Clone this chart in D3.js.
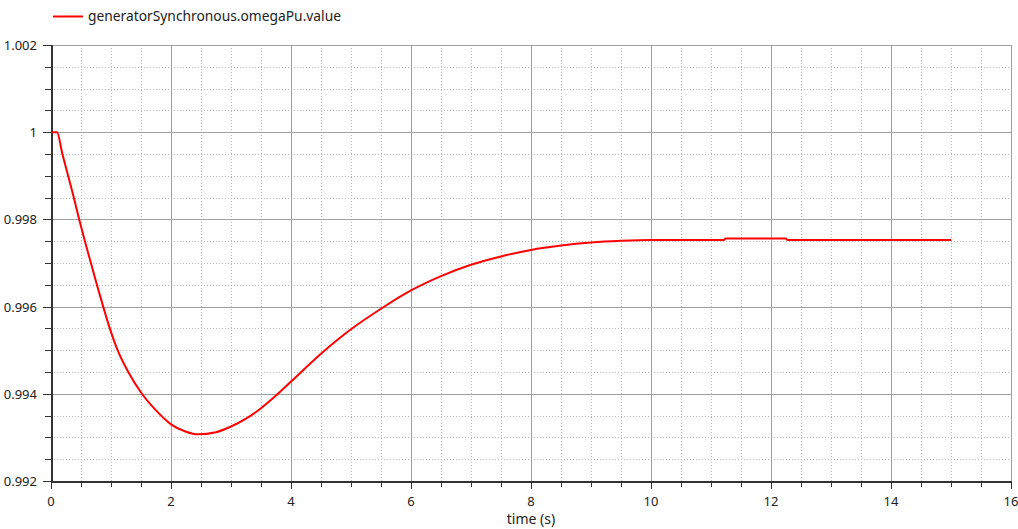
<!DOCTYPE html>
<html>
<head>
<meta charset="utf-8">
<script src="https://cdn.jsdelivr.net/npm/d3@7"></script>
<style>
  html, body { margin: 0; padding: 0; background: #fff; }
  svg { display: block; font-family: "Noto Sans", sans-serif; }
</style>
</head>
<body>
<div id="chart"></div>
<script>
// Series
const seriesName = 'generatorSynchronous.omegaPu.value';
const timeValues = [0, 0.1, 0.19, 0.285, 0.38, 0.47, 0.565, 0.665, 0.765, 0.87, 0.98, 1.11, 1.3, 1.5,
  1.75, 2.0, 2.25, 2.45, 2.75, 3.0, 3.25, 3.5, 3.75, 4.0, 4.5, 5.0, 5.5, 6.0, 6.5, 7.0, 7.5,
  8.0, 8.5, 9.0, 9.5, 10.0, 11.0, 11.22, 11.24, 12.25, 12.27, 15.0];
const omegaValues = [1.0, 1.0, 0.9995, 0.999, 0.9985, 0.998, 0.9975, 0.997, 0.9965, 0.996, 0.9955, 0.995, 0.99447, 0.99403,
  0.99362, 0.9933, 0.99313, 0.99307, 0.99312, 0.99325, 0.99343, 0.99367, 0.99396, 0.99428, 0.99492, 0.99548, 0.99595, 0.99637, 0.9967, 0.99696, 0.99715,
  0.9973, 0.9974, 0.99747, 0.99751, 0.99753, 0.99753, 0.99753, 0.99756, 0.99756, 0.99753, 0.99753];
const xTicks = [0, 2, 4, 6, 8, 10, 12, 14, 16];
const yTicks = [0.992, 0.994, 0.996, 0.998, 1, 1.002];
const xDomain = [0, 16];
const yDomain = [0.992, 1.002];
const xLabel = 'time (s)';

const width = 1018, height = 529;
const plot = { left: 51, top: 45, right: 1011, bottom: 481 };

const svg = d3.select('#chart').append('svg')
  .attr('width', width).attr('height', height);

const x = d3.scaleLinear().domain(xDomain).range([plot.left, plot.right]);
const y = d3.scaleLinear().domain(yDomain).range([plot.bottom, plot.top]);

// minor ticks: 4 per major step
const xMinor = d3.range(xDomain[0], xDomain[1] + 1e-9, 0.5).filter(v => !xTicks.includes(v));
const yMinor = d3.range(0, 21).map(i => +(yDomain[0] + i * 0.0005).toFixed(4))
  .filter(v => !yTicks.some(t => Math.abs(t - v) < 1e-7));

const grid = svg.append('g').attr('shape-rendering', 'crispEdges');

// minor dotted grid
grid.selectAll('.vmin').data(xMinor).join('line')
  .attr('x1', d => Math.round(x(d)) + 0.5).attr('x2', d => Math.round(x(d)) + 0.5)
  .attr('y1', plot.top).attr('y2', plot.bottom)
  .attr('stroke', '#b8b8b8').attr('stroke-dasharray', '1,2');
grid.selectAll('.hmin').data(yMinor).join('line')
  .attr('y1', d => Math.round(y(d)) + 0.5).attr('y2', d => Math.round(y(d)) + 0.5)
  .attr('x1', plot.left).attr('x2', plot.right)
  .attr('stroke', '#b8b8b8').attr('stroke-dasharray', '1,2');

// major solid grid
grid.selectAll('.vmaj').data(xTicks).join('line')
  .attr('x1', d => Math.round(x(d)) + 0.5).attr('x2', d => Math.round(x(d)) + 0.5)
  .attr('y1', plot.top).attr('y2', plot.bottom)
  .attr('stroke', '#a0a0a0');
grid.selectAll('.hmaj').data(yTicks).join('line')
  .attr('y1', d => Math.round(y(d)) + 0.5).attr('y2', d => Math.round(y(d)) + 0.5)
  .attr('x1', plot.left).attr('x2', plot.right)
  .attr('stroke', '#a0a0a0');

// frame
grid.append('rect')
  .attr('x', plot.left + 0.5).attr('y', plot.top + 0.5)
  .attr('width', plot.right - plot.left).attr('height', plot.bottom - plot.top)
  .attr('fill', 'none').attr('stroke', '#a0a0a0');

// axes
const axisColor = '#333';
const xAxis = svg.append('g').attr('shape-rendering', 'crispEdges');
xAxis.selectAll('.tmin').data(xMinor).join('line')
  .attr('x1', d => Math.round(x(d)) + 0.5).attr('x2', d => Math.round(x(d)) + 0.5)
  .attr('y1', plot.bottom).attr('y2', plot.bottom + 6).attr('stroke', axisColor);
xAxis.selectAll('.tmaj').data(xTicks).join('line')
  .attr('x1', d => Math.round(x(d)) + 0.5).attr('x2', d => Math.round(x(d)) + 0.5)
  .attr('y1', plot.bottom).attr('y2', plot.bottom + 8).attr('stroke', axisColor);
xAxis.append('line')
  .attr('x1', plot.left).attr('x2', plot.right + 1)
  .attr('y1', plot.bottom + 0.5).attr('y2', plot.bottom + 0.5)
  .attr('stroke', axisColor).attr('stroke-width', 2);
xAxis.selectAll('text').data(xTicks).join('text')
  .attr('x', d => x(d)).attr('y', plot.bottom + 25)
  .attr('text-anchor', 'middle').attr('font-size', 13).attr('fill', '#222')
  .text(d => d);

const yAxis = svg.append('g').attr('shape-rendering', 'crispEdges');
yAxis.selectAll('.tmin').data(yMinor).join('line')
  .attr('y1', d => Math.round(y(d)) + 0.5).attr('y2', d => Math.round(y(d)) + 0.5)
  .attr('x1', plot.left - 6).attr('x2', plot.left).attr('stroke', axisColor);
yAxis.selectAll('.tmaj').data(yTicks).join('line')
  .attr('y1', d => Math.round(y(d)) + 0.5).attr('y2', d => Math.round(y(d)) + 0.5)
  .attr('x1', plot.left - 8).attr('x2', plot.left).attr('stroke', axisColor);
yAxis.append('line')
  .attr('x1', plot.left + 0.5).attr('x2', plot.left + 0.5)
  .attr('y1', plot.top).attr('y2', plot.bottom + 1)
  .attr('stroke', axisColor).attr('stroke-width', 2);
yAxis.selectAll('text').data(yTicks).join('text')
  .attr('x', plot.left - 14).attr('y', d => y(d) + 5)
  .attr('text-anchor', 'end').attr('font-size', 13).attr('fill', '#222')
  .text(d => d3.format('')(d));

svg.append('text')
  .attr('x', (plot.left + plot.right) / 2).attr('y', 524)
  .attr('text-anchor', 'middle').attr('font-size', 14).attr('fill', '#222')
  .text(xLabel);

// series line
const data = timeValues.map((t, i) => ({ t, v: omegaValues[i] }));
const line = d3.line().x(d => x(d.t)).y(d => y(d.v)).curve(d3.curveMonotoneX);
svg.append('path')
  .datum(data)
  .attr('d', line)
  .attr('fill', 'none')
  .attr('stroke', '#ff0000')
  .attr('stroke-width', 2);

// legend
const legend = svg.append('g');
legend.append('line')
  .attr('x1', 53).attr('x2', 83).attr('y1', 16.5).attr('y2', 16.5)
  .attr('stroke', '#ff0000').attr('stroke-width', 2);
legend.append('text')
  .attr('x', 88).attr('y', 21)
  .attr('font-size', 13.8).attr('fill', '#222')
  .text(seriesName);
</script>
</body>
</html>
